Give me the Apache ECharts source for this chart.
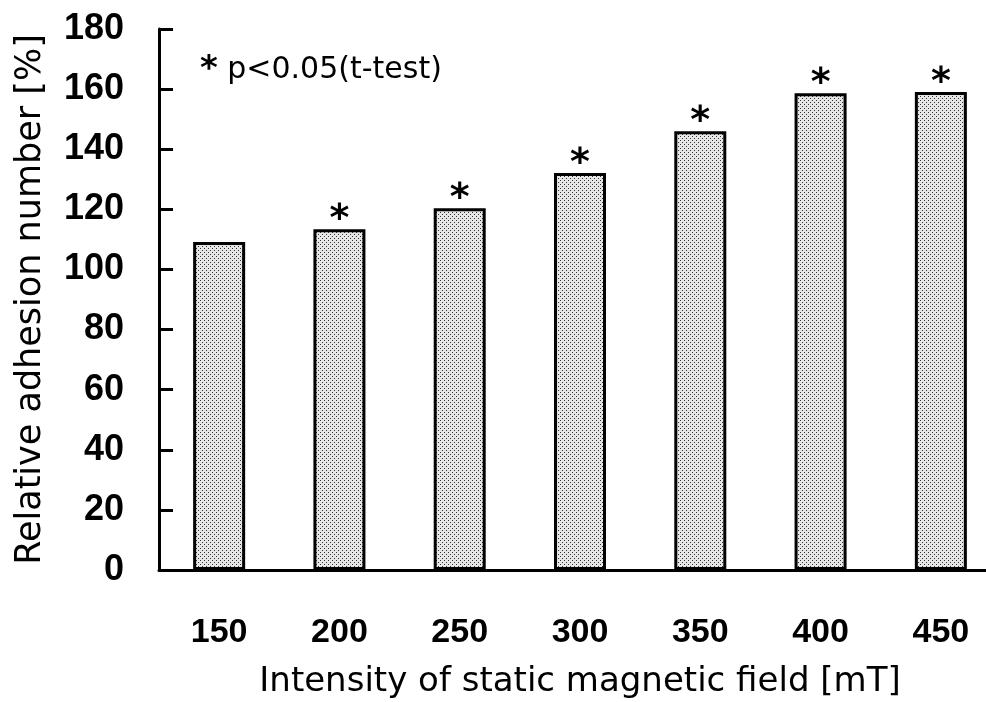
<!DOCTYPE html>
<html>
<head>
<meta charset="utf-8">
<script src="https://cdn.jsdelivr.net/npm/echarts@6/dist/echarts.min.js"></script>
<style>html,body{margin:0;padding:0;background:#fff}#c{width:986px;height:702px}</style>
</head>
<body>
<div id="c"></div>
<script>
var categories = ['150', '200', '250', '300', '350', '400', '450'];
var values = [109.1, 113.4, 120.4, 132.1, 146.0, 158.6, 159.0];
var significant = [false, true, true, true, true, true, true];
var yTicks = [0, 20, 40, 60, 80, 100, 120, 140, 160, 180];

var pc = document.createElement('canvas');
pc.width = 4; pc.height = 4;
var g = pc.getContext('2d');
g.fillStyle = '#e6e6e6'; g.fillRect(0, 0, 4, 4);
g.fillStyle = '#333'; g.fillRect(0, 0, 1, 1); g.fillRect(2, 2, 1, 1);

var chart = echarts.init(document.getElementById('c'), null, {renderer: 'canvas'});
var FONT = 'Liberation Sans';
var TFONT = 'DejaVu Sans';
chart.setOption({
  animation: false,
  backgroundColor: '#fff',
  grid: {left: 159, right: -15, top: 29, bottom: 132, containLabel: false, outerBoundsMode: 'none'},
  xAxis: {
    type: 'category',
    data: categories,
    name: 'Intensity of static magnetic field [mT]',
    nameLocation: 'middle',
    nameGap: 95,
    nameTextStyle: {fontFamily: TFONT, fontSize: 34, color: '#000'},
    axisLine: {lineStyle: {color: '#000', width: 3}},
    axisTick: {show: false},
    axisLabel: {fontFamily: FONT, fontSize: 34, fontWeight: 'bold', color: '#000', margin: 46}
  },
  yAxis: {
    type: 'value',
    min: yTicks[0], max: yTicks[yTicks.length - 1], interval: 20,
    name: 'Relative adhesion number [%]',
    nameLocation: 'middle',
    nameGap: 111,
    nameTextStyle: {fontFamily: TFONT, fontSize: 35, color: '#000'},
    axisLine: {show: true, lineStyle: {color: '#000', width: 3}},
    axisTick: {show: true, inside: true, length: 14, lineStyle: {color: '#000', width: 3}},
    splitLine: {show: false},
    axisLabel: {fontFamily: FONT, fontSize: 36, fontWeight: 'bold', color: '#000', margin: 35}
  },
  series: [{
    type: 'bar',
    barWidth: 52,
    data: values.map(function (v, i) {
      return {value: v, label: {show: significant[i]}};
    }),
    itemStyle: {color: {image: pc, repeat: 'repeat'}, borderColor: '#000', borderWidth: 3},
    label: {
      position: 'top', distance: -10, formatter: '*',
      fontFamily: TFONT, fontSize: 38, fontWeight: 'bold', color: '#000'
    }
  }],
  graphic: [{
    type: 'text', left: 200, top: 53,
    style: {
      text: '{a|*} p<0.05(t-test)', fontFamily: TFONT, fontSize: 30, fill: '#000',
      rich: {a: {fontFamily: TFONT, fontSize: 34, fontWeight: 'bold', fill: '#000'}}
    }
  }]
});
</script>
</body>
</html>
